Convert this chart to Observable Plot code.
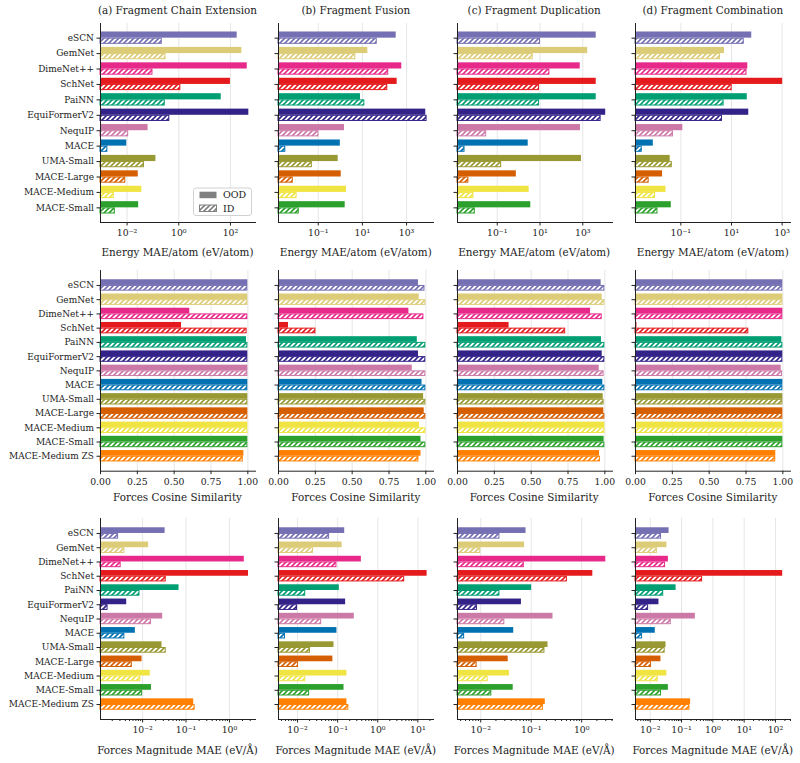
<!DOCTYPE html>
<html><head><meta charset="utf-8">
<script src="https://cdn.jsdelivr.net/npm/d3@7"></script>
<script src="https://cdn.jsdelivr.net/npm/@observablehq/plot@0.6"></script>
<style>
body{margin:0;background:#fff;}
#root{position:relative;width:800px;height:763px;font-family:"DejaVu Serif",serif;color:#222;overflow:hidden;}
.ttl{position:absolute;font-size:10.4px;white-space:nowrap;transform:translate(-50%,-50%);line-height:1;}
.xl{position:absolute;font-size:10.4px;white-space:nowrap;transform:translate(-50%,-50%);line-height:1;}
</style></head><body>
<svg width="0" height="0" style="position:absolute"><defs id="pdefs"></defs></svg>
<div id="root"></div>
<script>
// ---------- data ----------
const modelsEnergy = ["eSCN","GemNet","DimeNet++","SchNet","PaiNN","EquiFormerV2","NequIP","MACE","UMA-Small","MACE-Large","MACE-Medium","MACE-Small"];
const modelsForces = ["eSCN","GemNet","DimeNet++","SchNet","PaiNN","EquiFormerV2","NequIP","MACE","UMA-Small","MACE-Large","MACE-Medium","MACE-Small","MACE-Medium ZS"];
const modelColors = ["#7570b3","#ddcc77","#e7298a","#e41a1c","#009e73","#332288","#cc79a7","#0072b2","#999933","#d55e00","#f0e442","#2ca02c","#ff7f00"];
const panelTitles = ["(a) Fragment Chain Extension","(b) Fragment Fusion","(c) Fragment Duplication","(d) Fragment Combination"];
const rowLabels = ["Energy MAE/atom (eV/atom)","Forces Cosine Similarity","Forces Magnitude MAE (eV/Å)"];
const legendLabels = ["OOD","ID"];

// Energy MAE/atom
const energyOOD_chain = [182, 277, 447, 100, 44, 515, 0.065, 0.0097, 0.13, 0.027, 0.037, 0.028];
const energyID_chain  = [0.23, 0.32, 0.10, 1.2, 0.30, 0.45, 0.0115, 0.0018, 0.047, 0.0089, 0.0032, 0.0035];
const energyOOD_fusion = [339, 17.6, 607, 375, 8.2, 7400, 1.55, 1.0, 0.8, 1.1, 1.9, 1.66];
const energyID_fusion  = [47, 5.0, 156, 141, 12.9, 8500, 0.107, 0.0034, 0.054, 0.0074, 0.011, 0.0138];
const energyOOD_dup = [4250, 1700, 760, 4250, 4250, 11800, 780, 2.8, 870, 0.78, 3.1, 3.7];
const energyID_dup  = [10.5, 4.8, 29, 9.5, 9.5, 7200, 0.032, 0.0031, 0.16, 0.0047, 0.0081, 0.0094];
const energyOOD_comb = [63, 5.3, 44, 1050, 42, 48, 0.12, 0.0082, 0.038, 0.019, 0.026, 0.042];
const energyID_comb  = [32, 3.7, 41, 10.6, 5.1, 4.4, 0.051, 0.003, 0.046, 0.0056, 0.01, 0.0125];

// Forces cosine similarity
const cosOOD_chain = [1.0,1.0,0.606,0.55,0.991,1.0,1.0,1.0,1.0,1.0,1.0,1.0,0.973];
const cosID_chain  = [1.0,1.0,1.0,0.995,1.0,1.0,1.0,1.0,1.0,1.0,1.0,1.0,0.969];
const cosOOD_fusion = [0.95,0.955,0.885,0.068,0.942,0.95,0.908,0.974,0.985,0.989,0.957,0.967,0.967];
const cosID_fusion  = [0.994,1.0,0.987,0.254,1.0,1.0,1.0,1.0,1.0,1.0,1.0,1.0,0.953];
const cosOOD_dup = [0.975,0.982,0.903,0.35,0.977,0.982,0.962,0.986,0.989,0.993,1.0,0.995,0.964];
const cosID_dup  = [1.0,1.0,0.982,0.734,1.0,1.0,0.995,1.0,0.995,1.0,1.0,1.0,0.97];
const cosOOD_comb = [1.0,1.0,1.0,0.01,0.993,1.0,0.989,1.0,1.0,1.0,1.0,1.0,0.952];
const cosID_comb  = [1.0,1.0,1.0,0.769,1.0,1.0,0.998,1.0,1.0,1.0,1.0,1.0,0.952];

// Forces magnitude MAE
const fmagOOD_chain = [0.033,0.0138,2.2,2.75,0.069,0.0043,0.029,0.0068,0.028,0.0097,0.015,0.016,0.15];
const fmagID_chain  = [0.0028,0.0039,0.0032,0.035,0.0087,0.0016,0.016,0.0039,0.035,0.0058,0.0091,0.01,0.162];
const fmagOOD_fusion = [0.15,0.129,0.39,17,0.11,0.158,0.26,0.096,0.081,0.076,0.17,0.144,0.17];
const fmagID_fusion  = [0.063,0.025,0.096,4.7,0.016,0.01,0.04,0.005,0.021,0.0106,0.016,0.02,0.19];
const fmagOOD_dup = [0.079,0.074,3.0,1.66,0.102,0.064,0.27,0.045,0.215,0.035,0.037,0.044,0.19];
const fmagID_dup  = [0.024,0.01,0.073,0.52,0.024,0.0086,0.03,0.0048,0.187,0.0085,0.014,0.0166,0.174];
const fmagOOD_comb = [0.04,0.034,0.038,170,0.067,0.019,0.276,0.0145,0.032,0.022,0.034,0.038,0.195];
const fmagID_comb  = [0.023,0.017,0.031,0.47,0.027,0.0089,0.047,0.0057,0.03,0.011,0.018,0.023,0.186];

// tick values
const energyTicks_chain = [1e-2, 1, 1e2];
const energyTicks_other = [1e-1, 1e1, 1e3];
const cosTicks = [0, 0.25, 0.5, 0.75, 1.0];
const fmagTicks_chain = [1e-2, 1e-1, 1];
const fmagTicks_fusion = [1e-2, 1e-1, 1, 1e1];
const fmagTicks_dup = [1e-2, 1e-1, 1];
const fmagTicks_comb = [1e-2, 1e-1, 1, 1e1, 1e2];

// ---------- layout config ----------
const colX = [100, 278.3, 456.7, 635.3];
const plotW = 155;
const rowTop = [23, 270, 518];
const rowBottom = [222, 470.7, 719];
const rowLabelY = [252, 497, 750];
const energyExp = [[-3.03, 2.97], [-2.8, 4.22], [-2.86, 4.39], [-2.79, 3.33]];
const fmagExp = [[-2.97, 0.6], [-2.475, 1.39], [-2.46, 0.61], [-2.47, 2.48]];

// ---------- hatch patterns ----------
const defs = d3.select("#pdefs");
function addHatch(id, color) {
  const p = defs.append("pattern").attr("id", id).attr("patternUnits", "userSpaceOnUse")
    .attr("width", 5).attr("height", 5);
  p.append("rect").attr("width", 5).attr("height", 5).attr("fill", "white");
  p.append("path").attr("d", "M-1,1 L1,-1 M0,5 L5,0 M4,6 L6,4")
    .attr("stroke", color).attr("stroke-width", 1.6).attr("fill", "none");
}
modelColors.forEach((c, i) => addHatch("hatch" + i, c));
addHatch("hatchgray", "#808080");

const supMap = {"-":"⁻","0":"⁰","1":"¹","2":"²","3":"³","4":"⁴","5":"⁵","6":"⁶","7":"⁷","8":"⁸","9":"⁹"};
const logFmt = d => "10" + String(Math.round(Math.log10(d))).split("").map(c => supMap[c]).join("");

function minorTicks(lo, hi) {
  const out = [];
  for (let e = Math.floor(Math.log10(lo)); e <= Math.ceil(Math.log10(hi)); e++)
    for (let k = 2; k <= 9; k++) { const v = k * Math.pow(10, e); if (v > lo && v < hi) out.push(v); }
  return out;
}

const root = document.getElementById("root");

function panel({row, col, models, ood, id, type, domain, ticks, tickFormat, minors, padOuter}) {
  const H = rowBottom[row] - rowTop[row];
  const n = models.length;
  const step = H / (n + 2 * padOuter);
  const mL = col === 0 ? 100 : 12, mR = 12, mT = 6, mB = 30;
  const data = models.map((m, i) => ({model: m, ood: ood[i], id: id[i], color: modelColors[i], hatch: `url(#hatch${i})`}));
  const x0 = domain[0];
  const marks = [
    Plot.gridX(ticks, {stroke: "#e3e3e3", strokeOpacity: 1, strokeWidth: 0.9}),
    Plot.barX(data, {y: "model", x1: () => x0, x2: "ood", fill: "color", insetTop: 0.1 * step, insetBottom: 0.5 * step}),
    Plot.barX(data, {y: "model", x1: () => x0, x2: "id", fill: "hatch", stroke: "color", strokeWidth: 1, insetTop: 0.5 * step + 0.5, insetBottom: 0.1 * step + 0.5, insetRight: 0.5}),
    Plot.frame({anchor: "left", stroke: "#222", strokeWidth: 1}),
    Plot.frame({anchor: "bottom", stroke: "#222", strokeWidth: 1}),
    Plot.axisY({tickSize: 3.5, tickPadding: 3, tickFormat: col === 0 ? (d => d) : (() => ""), label: null, fontSize: 9}),
    Plot.axisX(ticks, {tickSize: 3.5, tickPadding: 3.5, tickFormat, label: null, fontSize: 9.3})
  ];
  if (minors) marks.push(Plot.axisX(minors, {tickSize: 2, tickFormat: () => "", label: null}));
  const svg = Plot.plot({
    width: mL + plotW + mR,
    height: mT + H + mB,
    marginLeft: mL, marginRight: mR, marginTop: mT, marginBottom: mB,
    style: {fontFamily: "DejaVu Serif", fontSize: "9px", color: "#222", background: "transparent", overflow: "visible"},
    x: {type, domain, range: [mL, mL + plotW]},
    y: {type: "band", domain: models, paddingInner: 0, paddingOuter: padOuter, round: false},
    color: {type: "identity"},
    marks
  });
  svg.style.position = "absolute";
  svg.style.left = (colX[col] - mL) + "px";
  svg.style.top = (rowTop[row] - mT) + "px";
  root.appendChild(svg);
  return {svg, offX: colX[col] - mL, offY: rowTop[row] - mT};
}

function addText(cls, text, cx, cy) {
  const d = document.createElement("div");
  d.className = cls; d.textContent = text;
  d.style.left = cx + "px"; d.style.top = cy + "px";
  root.appendChild(d);
}

const energySets = [[energyOOD_chain, energyID_chain], [energyOOD_fusion, energyID_fusion], [energyOOD_dup, energyID_dup], [energyOOD_comb, energyID_comb]];
const cosSets = [[cosOOD_chain, cosID_chain], [cosOOD_fusion, cosID_fusion], [cosOOD_dup, cosID_dup], [cosOOD_comb, cosID_comb]];
const fmagSets = [[fmagOOD_chain, fmagID_chain], [fmagOOD_fusion, fmagID_fusion], [fmagOOD_dup, fmagID_dup], [fmagOOD_comb, fmagID_comb]];
const fmagTickSets = [fmagTicks_chain, fmagTicks_fusion, fmagTicks_dup, fmagTicks_comb];

let firstPanel;
for (let c = 0; c < 4; c++) {
  const ed = energyExp[c].map(e => Math.pow(10, e));
  const p = panel({row: 0, col: c, models: modelsEnergy, ood: energySets[c][0], id: energySets[c][1], type: "log",
    domain: ed, ticks: c === 0 ? energyTicks_chain : energyTicks_other, tickFormat: logFmt, padOuter: 0.45});
  if (c === 0) firstPanel = p;
  panel({row: 1, col: c, models: modelsForces, ood: cosSets[c][0], id: cosSets[c][1], type: "linear",
    domain: [0, 1.052], ticks: cosTicks, tickFormat: d3.format(".2f"), padOuter: 0.55});
  const fd = fmagExp[c].map(e => Math.pow(10, e));
  panel({row: 2, col: c, models: modelsForces, ood: fmagSets[c][0], id: fmagSets[c][1], type: "log",
    domain: fd, ticks: fmagTickSets[c], tickFormat: logFmt, minors: minorTicks(fd[0], fd[1]), padOuter: 0.55});
  const cx = colX[c] + plotW / 2;
  addText("ttl", panelTitles[c], cx, 10);
  for (let r = 0; r < 3; r++) addText("xl", rowLabels[r], cx, rowLabelY[r]);
}

// legend in panel (a), energy row
{
  const {svg, offX, offY} = firstPanel;
  const g = d3.select(svg).append("g").attr("transform", `translate(${-offX},${-offY})`)
    .attr("font-family", "DejaVu Serif").attr("font-size", 9.5).attr("text-anchor", "start");
  g.append("rect").attr("x", 193.5).attr("y", 188).attr("width", 58).attr("height", 27.5).attr("rx", 2.5)
    .attr("fill", "white").attr("fill-opacity", 0.85).attr("stroke", "#cccccc").attr("stroke-width", 0.9);
  g.append("rect").attr("x", 199.5).attr("y", 191.7).attr("width", 17).attr("height", 6.5).attr("fill", "#808080");
  g.append("text").attr("x", 223).attr("y", 195).attr("dy", "0.35em").attr("fill", "#222").attr("text-anchor", "start").text(legendLabels[0]);
  g.append("rect").attr("x", 199.5).attr("y", 205).attr("width", 17).attr("height", 6.5)
    .attr("fill", "url(#hatchgray)").attr("stroke", "#808080").attr("stroke-width", 1);
  g.append("text").attr("x", 223).attr("y", 208.5).attr("dy", "0.35em").attr("fill", "#222").attr("text-anchor", "start").text(legendLabels[1]);
}
</script>
</body></html>
